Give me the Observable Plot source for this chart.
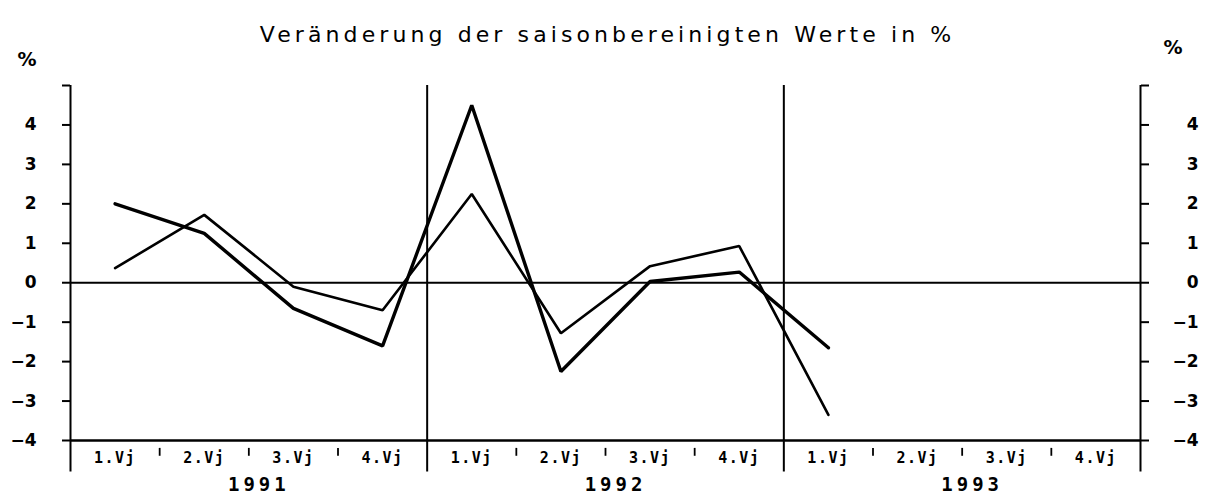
<!DOCTYPE html>
<html><head><meta charset="utf-8">
<script src="https://cdn.jsdelivr.net/npm/d3@7"></script>
<script src="https://cdn.jsdelivr.net/npm/@observablehq/plot@0.6"></script>
<style>body{margin:0;background:#fff}</style>
</head><body><div id="chart"></div>
<script>
// ---- data ----
const years = [1991, 1992, 1993];
const quarterLabels = ["1.Vj", "2.Vj", "3.Vj", "4.Vj"];
const seriesA = [2.0, 1.25, -0.65, -1.6, 4.5, -2.25, 0.03, 0.27, -1.65];
const seriesB = [0.37, 1.72, -0.1, -0.7, 2.25, -1.28, 0.42, 0.93, -3.35];
const yTicks = [-4, -3, -2, -1, 0, 1, 2, 3, 4, 5];
const yLabelled = [-4, -3, -2, -1, 0, 1, 2, 3, 4];
const titleText = "Veränderung der saisonbereinigten Werte in %";
const unitLabel = "%";

// ---- derived tables ----
const slots = years.flatMap((yr, yi) =>
  quarterLabels.map((q, qi) => ({year: yr, label: q, qi, x: yi * quarterLabels.length + qi + 0.5})));
const dataA = seriesA.map((v, i) => ({x: slots[i].x, v}));
const dataB = seriesB.map((v, i) => ({x: slots[i].x, v}));
const nSlots = slots.length;
const yearBounds = years.map((_, i) => i * quarterLabels.length).concat([nSlots]);
const quarterTicks = slots.filter(d => d.qi > 0).map(d => d.x - 0.5);
const yearCenters = years.map((yr, i) => ({year: String(yr), x: i * quarterLabels.length + quarterLabels.length / 2}));
const yMin = yTicks[0], yMax = yTicks[yTicks.length - 1];

const fmt = d => yLabelled.includes(d) ? (d < 0 ? "\u2212" + Math.abs(d) : String(d)) : "";
const FONT = "DejaVu Sans";
const MONO = "DejaVu Sans Mono";

const chart = Plot.plot({
  width: 1206,
  height: 500,
  marginLeft: 70,
  marginRight: 66,
  marginTop: 85,
  marginBottom: 60,
  style: {fontFamily: FONT, color: "#000", background: "#fff"},
  x: {type: "linear", domain: [0, nSlots], axis: null},
  y: {domain: [yMin, yMax]},
  marks: [
    // frame & separators
    Plot.ruleX(yearBounds, {y1: yMin - 0.8, y2: yMax, stroke: "#000", strokeWidth: 2}),
    Plot.ruleY([yMin], {x1: 0, x2: nSlots, stroke: "#000", strokeWidth: 2.6}),
    Plot.ruleY([0], {x1: 0, x2: nSlots, stroke: "#000", strokeWidth: 2}),
    Plot.ruleX(quarterTicks, {y1: yMin - 0.2, y2: yMin - 0.4, stroke: "#000", strokeWidth: 1.8}),
    // y axes
    Plot.axisY(yTicks, {anchor: "left", label: null, tickSize: 8, tickPadding: 26, tickFormat: fmt,
      fontSize: 17, fontWeight: "bold", fontFamily: FONT, strokeWidth: 2}),
    Plot.axisY(yTicks, {anchor: "right", label: null, tickSize: 8, tickPadding: 50, textAnchor: "end", tickFormat: fmt,
      fontSize: 17, fontWeight: "bold", fontFamily: FONT, strokeWidth: 2}),
    // series
    Plot.line(dataB, {x: "x", y: "v", stroke: "#000", strokeWidth: 2.6, strokeLinejoin: "miter"}),
    Plot.line(dataA, {x: "x", y: "v", stroke: "#000", strokeWidth: 3.4, strokeLinejoin: "miter"}),
    // x labels
    Plot.text(slots, {x: "x", y: yMin, dy: 18, text: "label", fontSize: 15, fontWeight: "bold", fontFamily: MONO, fill: "#000"}),
    Plot.text(yearCenters, {x: "x", y: yMin, dy: 44, dx: 10, text: "year", fontSize: 19, fontWeight: "bold", fontFamily: MONO, fill: "#000"}),
    // title and unit labels
    Plot.text([titleText], {frameAnchor: "top", dy: -59, dx: 2, text: d => d, fontSize: 22, fontWeight: 500, fontFamily: FONT, fill: "#000"}),
    Plot.text([unitLabel], {frameAnchor: "top-left", dx: -53, dy: -33, text: d => d, fontSize: 19, fontWeight: "bold", fontFamily: FONT, fill: "#000"}),
    Plot.text([unitLabel], {frameAnchor: "top-right", dx: 42, dy: -45, text: d => d, fontSize: 19, fontWeight: "bold", fontFamily: FONT, fill: "#000"})
  ]
});
// typographic spacing to mimic the wide plotter lettering
const spacing = new Map([[titleText, "4.1px"]]);
quarterLabels.forEach(q => spacing.set(q, "1.5px"));
years.forEach(y => spacing.set(String(y), "4px"));
d3.select(chart).selectAll("text").each(function () {
  const s = spacing.get(this.textContent);
  if (s) this.style.letterSpacing = s;
});
document.getElementById("chart").appendChild(chart);
</script>
</body></html>
